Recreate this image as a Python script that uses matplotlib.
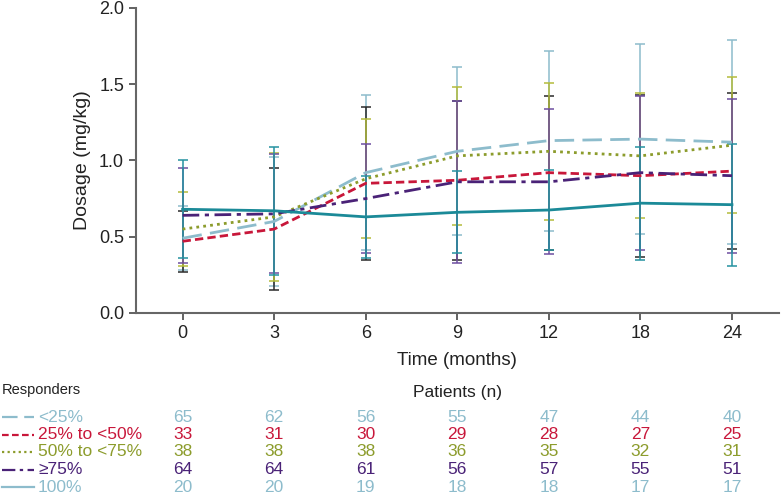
import numpy as np
import matplotlib
matplotlib.use("Agg")
import matplotlib.pyplot as plt
from matplotlib.lines import Line2D
from matplotlib.transforms import blended_transform_factory

plt.rcParams['font.family'] = ['Liberation Sans', 'DejaVu Sans']

# data
months = ['0', '3', '6', '9', '12', '18', '24']
groups = ['<25%', '25% to <50%', '50% to <75%', '\u226575%', '100%']

mean_lt25 = [0.49, 0.60, 0.92, 1.06, 1.13, 1.14, 1.12]
mean_25_50 = [0.47, 0.55, 0.85, 0.87, 0.92, 0.90, 0.93]
mean_50_75 = [0.55, 0.63, 0.88, 1.03, 1.06, 1.03, 1.10]
mean_ge75 = [0.64, 0.65, 0.75, 0.86, 0.86, 0.92, 0.90]
mean_100 = [0.68, 0.67, 0.63, 0.66, 0.675, 0.72, 0.71]

sd_lt25 = [0.21, 0.42, 0.51, 0.55, 0.59, 0.625, 0.67]
sd_25_50 = [0.20, 0.40, 0.50, 0.52, 0.505, 0.53, 0.51]
sd_50_75 = [0.24, 0.42, 0.39, 0.45, 0.45, 0.41, 0.445]
sd_ge75 = [0.31, 0.39, 0.36, 0.53, 0.475, 0.505, 0.505]
sd_100 = [0.32, 0.42, 0.27, 0.27, 0.26, 0.37, 0.40]

n_lt25 = [65, 62, 56, 55, 47, 44, 40]
n_25_50 = [33, 31, 30, 29, 28, 27, 25]
n_50_75 = [38, 38, 38, 36, 35, 32, 31]
n_ge75 = [64, 64, 61, 56, 57, 55, 51]
n_100 = [20, 20, 19, 18, 18, 17, 17]

means = [mean_lt25, mean_25_50, mean_50_75, mean_ge75, mean_100]
sds = [sd_lt25, sd_25_50, sd_50_75, sd_ge75, sd_100]
counts = [n_lt25, n_25_50, n_50_75, n_ge75, n_100]

colors = ['#8dbccc', '#c8173a', '#8c9c2c', '#4a2277', '#1b8a98']
ecolors = ['#8dbccc', '#2a2a2a', '#b4bc3c', '#6e4ea0', '#2592a0']
txtcolors = ['#8dbccc', '#c8173a', '#8c9c2c', '#4a2277', '#8dbccc']
styles = [(0, (7, 3)), (0, (3, 1.5)), (0, (1, 1.5)), (0, (6, 2, 1.5, 2)), '-']

fig = plt.figure(figsize=(7.81, 4.96), dpi=100)
ax = fig.add_axes([0.174, 0.369, 0.823, 0.615])

x = np.arange(len(months))
for i in range(len(groups)):
    ax.errorbar(x, means[i], yerr=sds[i], fmt='none', ecolor=ecolors[i],
                elinewidth=1.1, capsize=3.5, capthick=1.1, zorder=2)
for i in range(len(groups)):
    ax.plot(x, means[i], color=colors[i], linestyle=styles[i], lw=2.0, zorder=3)

ax.set_xlim(-0.51, 6.51)
ax.set_ylim(0, 2.0)
ax.set_yticks([0, 0.5, 1.0, 1.5, 2.0])
ax.set_yticklabels(['0.0', '0.5', '1.0', '1.5', '2.0'])
ax.set_xticks(x)
ax.set_xticklabels(months)
ax.tick_params(labelsize=13, colors='#555555', labelcolor='#222222',
               width=1.3, length=5)
for s in ['top', 'right']:
    ax.spines[s].set_visible(False)
for s in ['left', 'bottom']:
    ax.spines[s].set_color('#666666')
    ax.spines[s].set_linewidth(1.5)
ax.set_ylabel('Dosage (mg/kg)', fontsize=14, color='#222222', labelpad=6)
ax.set_xlabel('Time (months)', fontsize=13.5, color='#222222', labelpad=7)

# number-at-risk table
tr = blended_transform_factory(ax.transData, fig.transFigure)
fig.text(2 / 781, 1 - 390 / 496, 'Responders', fontsize=10.5, color='#222222',
         va='center', ha='left')
ax.text(3, 1 - 392 / 496, 'Patients (n)', transform=tr, fontsize=12.5,
        color='#222222', ha='center', va='center')
row_y = [417, 434.5, 452, 469.5, 487]
for i in range(len(groups)):
    yf = 1 - row_y[i] / 496
    fig.add_artist(Line2D([2 / 781, 34 / 781], [yf, yf], transform=fig.transFigure,
                          color=colors[i] if i < 4 else txtcolors[i],
                          linestyle=styles[i], lw=1.6))
    fig.text(38 / 781, yf, groups[i], fontsize=12.5, color=txtcolors[i],
             ha='left', va='center')
    for j in range(len(months)):
        ax.text(x[j], yf, str(counts[i][j]), transform=tr, fontsize=12.5,
                color=txtcolors[i], ha='center', va='center')

fig.savefig('out.png', dpi=100)
